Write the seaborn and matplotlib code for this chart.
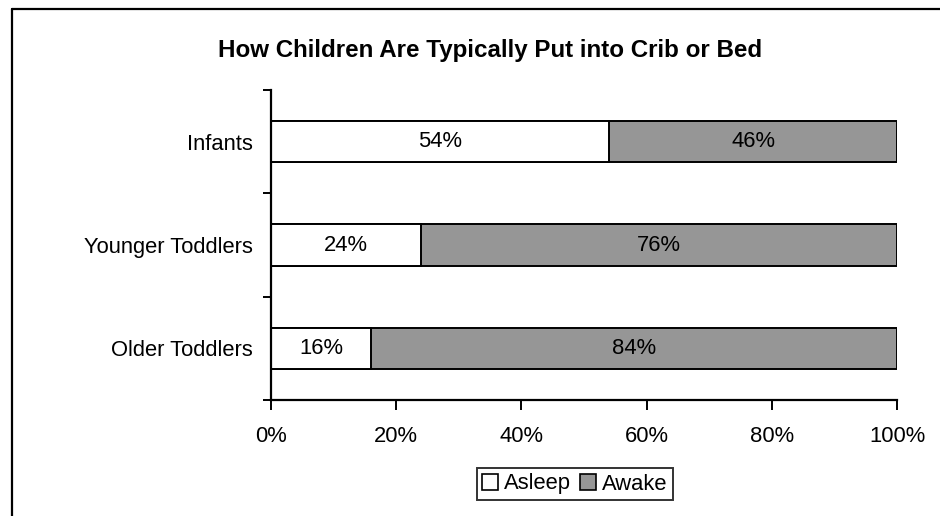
import matplotlib
matplotlib.use("Agg")
import matplotlib.pyplot as plt
from matplotlib.lines import Line2D
from matplotlib.patches import Patch
from matplotlib.ticker import FixedLocator, PercentFormatter
import seaborn as sns
import pandas as pd

categories = ["Infants", "Younger Toddlers", "Older Toddlers"]
asleep = [54, 24, 16]
awake = [46, 76, 84]
series_names = ["Asleep", "Awake"]
title = "How Children Are Typically Put into Crib or Bed"

sns.set_style("white")
plt.rcParams["font.family"] = ["Liberation Sans", "DejaVu Sans"]
plt.rcParams["text.color"] = "black"
plt.rcParams["xtick.color"] = "black"
plt.rcParams["ytick.color"] = "black"

FS = 15.8

df = pd.DataFrame({"category": categories, "asleep": asleep, "awake": awake})
df["total"] = df["asleep"] + df["awake"]

fig = plt.figure(figsize=(9.4, 5.16), dpi=100)
ax = fig.add_axes([271 / 940, 116 / 516, 626 / 940, 310 / 516])

gray = "#969696"
# stacked bars: full length in gray, asleep share in white on top
sns.barplot(data=df, y="category", x="total", orient="h", color=gray,
            saturation=1, width=0.4, edgecolor="black", linewidth=1.4, ax=ax)
sns.barplot(data=df, y="category", x="asleep", orient="h", color="white",
            saturation=1, width=0.4, edgecolor="black", linewidth=1.4, ax=ax)

for i, (a, w) in enumerate(zip(asleep, awake)):
    ax.text(a / 2, i, f"{a}%", ha="center", va="center", fontsize=FS)
    ax.text(a + w / 2, i, f"{w}%", ha="center", va="center", fontsize=FS)

ax.set_xlim(0, 100)
ax.set_ylim(2.5, -0.5)
ax.set_xlabel("")
ax.set_ylabel("")
ax.xaxis.set_major_locator(FixedLocator([0, 20, 40, 60, 80, 100]))
ax.xaxis.set_major_formatter(PercentFormatter(decimals=0))
ax.yaxis.set_minor_locator(FixedLocator([-0.5, 0.5, 1.5, 2.5]))
ax.tick_params(axis="y", which="major", length=0, pad=13, labelsize=FS)
ax.tick_params(axis="y", which="minor", length=6, width=1.4, direction="out",
               left=True, color="black")
ax.tick_params(axis="x", which="major", length=7, width=1.4, direction="out",
               bottom=True, color="black", pad=12, labelsize=FS)
for side in ("top", "right"):
    ax.spines[side].set_visible(False)
for side in ("left", "bottom"):
    ax.spines[side].set_color("black")
    ax.spines[side].set_linewidth(1.6)

fig.text(490 / 940, 1 - 50 / 516, title, ha="center", va="center",
         fontsize=17.4, fontweight="bold")

handles = [Patch(facecolor="white", edgecolor="black", linewidth=1.2),
           Patch(facecolor=gray, edgecolor="black", linewidth=1.2)]
leg = fig.legend(handles, series_names, loc="center",
                 bbox_to_anchor=(575 / 940, 1 - 484 / 516), ncol=2,
                 frameon=True, fancybox=False, fontsize=FS,
                 handlelength=0.7, handleheight=0.7, handletextpad=0.3,
                 columnspacing=0.4, borderpad=0.25, borderaxespad=0)
leg.get_frame().set_edgecolor("black")
leg.get_frame().set_linewidth(1.4)

# outer chart border (left and top edges)
fig.add_artist(Line2D([12 / 940, 12 / 940], [0, 1 - 9 / 516],
                      color="black", linewidth=1.6, transform=fig.transFigure))
fig.add_artist(Line2D([12 / 940, 1], [1 - 9 / 516, 1 - 9 / 516],
                      color="black", linewidth=1.6, transform=fig.transFigure))

fig.savefig("out.png", dpi=100, facecolor="white")
